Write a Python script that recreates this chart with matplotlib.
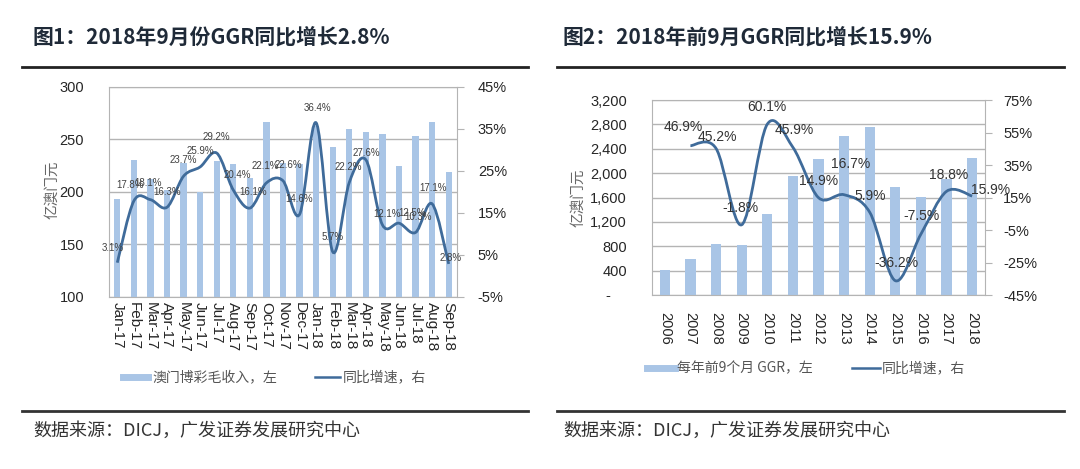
import numpy as np
import matplotlib
matplotlib.use('Agg')
import matplotlib.pyplot as plt
from matplotlib.path import Path
from matplotlib.patches import PathPatch
from matplotlib.lines import Line2D
from matplotlib.ticker import FuncFormatter

plt.rcParams['font.family'] = ['Liberation Sans', 'Noto Sans CJK SC', 'DejaVu Sans']
CJK = ['Noto Sans CJK SC', 'DejaVu Sans']

# ---- data: chart 1 (monthly) ----
months = ['Jan-17', 'Feb-17', 'Mar-17', 'Apr-17', 'May-17', 'Jun-17', 'Jul-17',
          'Aug-17', 'Sep-17', 'Oct-17', 'Nov-17', 'Dec-17', 'Jan-18', 'Feb-18',
          'Mar-18', 'Apr-18', 'May-18', 'Jun-18', 'Jul-18', 'Aug-18', 'Sep-18']
ggr_month = [192.6, 229.9, 212.3, 201.7, 227.6, 199.9, 229.6, 226.7, 213.0, 266.3,
             227.5, 226.0, 262.6, 243.0, 259.6, 257.3, 254.9, 224.9, 253.3, 266.0, 219.0]
yoy_month = [3.1, 17.8, 18.1, 16.3, 23.7, 25.9, 29.2, 20.4, 16.1, 22.1, 22.6,
             14.6, 36.4, 5.7, 22.2, 27.6, 12.1, 12.5, 10.3, 17.1, 2.8]

# ---- data: chart 2 (first 9 months each year) ----
years = ['2006', '2007', '2008', '2009', '2010', '2011', '2012', '2013',
         '2014', '2015', '2016', '2017', '2018']
ggr_year = [410, 591, 837, 820, 1324, 1953, 2226, 2615, 2762, 1767, 1603, 1904, 2248]
yoy_years = ['2007', '2008', '2009', '2010', '2011', '2012', '2013',
             '2014', '2015', '2016', '2017', '2018']
yoy_year = [46.9, 45.2, -1.8, 60.1, 45.9, 14.9, 16.7, 5.9, -36.2, -7.5, 18.8, 15.9]

# label offsets in pixels (style only)
off1 = [(-5, 15), (-4, 16), (-2, 17), (0, 15), (0, 16), (0, 16), (0, 16), (4, 15),
        (3, 16), (-1, 17), (5, 16), (0, 15), (1, 15), (0, 15), (-1, 15), (1, 7),
        (5, 11), (13, 10), (2, 15), (1, 16), (2, 6)]
off2 = [(-7, 19), (1, 11), (-1, 17), (0, 17), (1, 17), (0, 17), (7, 31), (0, 16),
        (1, 18), (1, 18), (2, 16), (18, 6)]

bar_c = '#a9c5e6'
line_c = '#3f6b9a'
grid_c = '#b4b4b4'
txt_c = '#262626'


def smooth_path(xs, ys):
    # Excel-style smoothed line: cubic bezier through the data points
    xs = np.asarray(xs, float)
    ys = np.asarray(ys, float)
    pts = np.column_stack([xs, ys])
    n = len(pts)
    verts = [pts[0]]
    codes = [Path.MOVETO]
    for i in range(n - 1):
        p0 = pts[i - 1] if i > 0 else pts[i]
        p1 = pts[i]
        p2 = pts[i + 1]
        p3 = pts[i + 2] if i + 2 < n else pts[i + 1]
        c1 = p1 + (p2 - p0) / 6.0
        c2 = p2 - (p3 - p1) / 6.0
        verts += [c1, c2, p2]
        codes += [Path.CURVE4] * 3
    return Path(verts, codes)


fig = plt.figure(figsize=(10.8, 4.69), dpi=100)
W, H = 1080., 469.

def fx(x):
    return x / W

def fy(y):
    return 1 - y / H

# ================= chart 1 =================
ax1 = fig.add_axes([fx(109), fy(296.7), fx(457) - fx(109), fy(86.7) - fy(296.7)])
x1 = np.arange(len(months))
ax1.bar(x1, ggr_month, width=0.38, color=bar_c, zorder=2)
ax1.set_ylim(100, 300)
ax1.set_yticks(range(100, 301, 50))
ax1.set_xlim(-0.5, len(months) - 0.5)
ax1.set_xticks(x1)
ax1.set_xticklabels(months, rotation=-90, fontsize=11, color=txt_c)
ax1.grid(axis='y', color=grid_c, lw=1)
ax1.set_axisbelow(True)
ax1.tick_params(axis='both', length=0, labelsize=10.5, labelcolor=txt_c)
ax1.tick_params(axis='x', pad=4, labelsize=11)
ax1.tick_params(axis='y', pad=18)
for s in ax1.spines.values():
    s.set_color(grid_c)

ax1b = ax1.twinx()
ax1b.set_ylim(-5, 45)
ax1b.set_yticks(range(-5, 46, 10))
ax1b.yaxis.set_major_formatter(FuncFormatter(lambda v, p: '%d%%' % v))
ax1b.tick_params(axis='y', length=5, color=grid_c, labelsize=10.5, labelcolor=txt_c, pad=10)
for s in ax1b.spines.values():
    s.set_visible(False)
ax1b.add_patch(PathPatch(smooth_path(x1, yoy_month), fill=False, edgecolor=line_c, lw=2, zorder=3))
for i, v in enumerate(yoy_month):
    ax1b.annotate('%.1f%%' % v, (x1[i], v), xytext=off1[i], textcoords='offset pixels',
                  ha='center', va='center', fontsize=7, color='#404040', zorder=4)

fig.text(fx(52), fy(190), '亿澳门元', rotation=90, ha='center', va='center',
         fontsize=10.5, color='#666666', family=CJK)

# ================= chart 2 =================
ax2 = fig.add_axes([fx(652), fy(295), fx(985) - fx(652), fy(100) - fy(295)])
x2 = np.arange(len(years))
ax2.bar(x2, ggr_year, width=0.4, color=bar_c, zorder=2)
ax2.set_ylim(0, 3200)
ax2.set_yticks(range(0, 3201, 400))
ax2.yaxis.set_major_formatter(FuncFormatter(lambda v, p: '-    ' if v == 0 else '{:,.0f}'.format(v)))
ax2.set_xlim(-0.5, len(years) - 0.5)
ax2.set_xticks(x2)
ax2.set_xticklabels(years, rotation=-90, fontsize=10.5, color=txt_c)
ax2.grid(axis='y', color=grid_c, lw=1)
ax2.set_axisbelow(True)
ax2.tick_params(axis='both', length=0, labelsize=10.5, labelcolor=txt_c)
ax2.tick_params(axis='x', pad=12, labelsize=10.5)
ax2.tick_params(axis='y', pad=18)
for s in ax2.spines.values():
    s.set_color(grid_c)

ax2b = ax2.twinx()
ax2b.set_ylim(-45, 75)
ax2b.set_yticks(range(-45, 76, 20))
ax2b.yaxis.set_major_formatter(FuncFormatter(lambda v, p: '%d%%' % v))
ax2b.tick_params(axis='y', length=5, color=grid_c, labelsize=10.5, labelcolor=txt_c, pad=8)
for s in ax2b.spines.values():
    s.set_visible(False)
xy = np.array([years.index(y) for y in yoy_years])
ax2b.add_patch(PathPatch(smooth_path(xy, yoy_year), fill=False, edgecolor=line_c, lw=2, zorder=3))
for i, v in enumerate(yoy_year):
    ax2b.annotate('%.1f%%' % v, (xy[i], v), xytext=off2[i], textcoords='offset pixels',
                  ha='center', va='center', fontsize=10, color='#333333', zorder=4)

fig.text(fx(578), fy(198), '亿澳门元', rotation=90, ha='center', va='center',
         fontsize=10.5, color='#666666', family=CJK)

# ================= titles, rules, legends, source =================
title_c = '#1f2a38'
fig.text(fx(33), fy(37), '图1：2018年9月份GGR同比增长2.8%', ha='left', va='center',
         fontsize=15, weight='bold', color=title_c, family=CJK)
fig.text(fx(563), fy(37), '图2：2018年前9月GGR同比增长15.9%', ha='left', va='center',
         fontsize=15, weight='bold', color=title_c, family=CJK)
for xa, xb in [(22, 528), (557, 1064)]:
    fig.add_artist(Line2D([fx(xa), fx(xb)], [fy(67), fy(67)], color='#222222', lw=2))
    fig.add_artist(Line2D([fx(xa), fx(xb)], [fy(411), fy(411)], color='#333333', lw=2))
fig.text(fx(33), fy(431), '数据来源：DICJ，广发证券发展研究中心', ha='left', va='center',
         fontsize=13, color='#333333', family=CJK)
fig.text(fx(563), fy(431), '数据来源：DICJ，广发证券发展研究中心', ha='left', va='center',
         fontsize=13, color='#333333', family=CJK)

leg_c = '#555555'
# chart 1 legend
fig.add_artist(Line2D([fx(123), fx(148)], [fy(377), fy(377)], color=bar_c, lw=5))
fig.text(fx(152), fy(377), '澳门博彩毛收入，左', ha='left', va='center', fontsize=10,
         color=leg_c, family=CJK)
fig.add_artist(Line2D([fx(315), fx(340)], [fy(377), fy(377)], color=line_c, lw=1.8))
fig.text(fx(343), fy(377), '同比增速，右', ha='left', va='center', fontsize=10,
         color=leg_c, family=CJK)
# chart 2 legend
fig.add_artist(Line2D([fx(647), fx(675)], [fy(368), fy(368)], color=bar_c, lw=5))
fig.text(fx(677), fy(368), '每年前9个月 GGR，左', ha='left', va='center', fontsize=10,
         color=leg_c, family=CJK)
fig.add_artist(Line2D([fx(852), fx(880)], [fy(368), fy(368)], color=line_c, lw=1.8))
fig.text(fx(882), fy(368), '同比增速，右', ha='left', va='center', fontsize=10,
         color=leg_c, family=CJK)

fig.savefig('out.png', dpi=100, facecolor='white')
